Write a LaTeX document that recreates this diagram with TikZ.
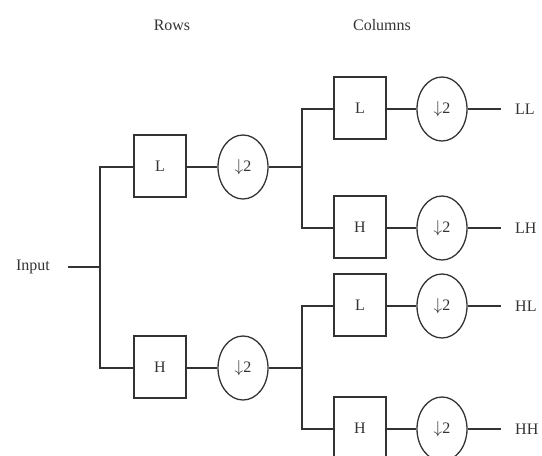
\documentclass[tikz,border=0pt]{standalone}
\usepackage{fontspec}
\setmainfont{Liberation Serif}
\usetikzlibrary{shapes.geometric}
\definecolor{ink}{HTML}{333333}
\begin{document}
\begin{tikzpicture}[x=1pt,y=-1pt,
  every node/.style={text=ink,font=\fontsize{16}{18}\selectfont},
  filt/.style={draw=ink,line width=1.3pt,minimum width=52pt,minimum height=62pt,inner sep=0pt},
  down/.style={draw=ink,line width=1.3pt,ellipse,minimum width=50pt,minimum height=64pt,inner sep=0pt},
  wire/.style={draw=ink,line width=1.3pt},
  lbl/.style={anchor=west,inner sep=0pt}]
\useasboundingbox (0,0) rectangle (542,456);
\node (rows) at (172,25) {Rows};
\node (cols) at (382,25) {Columns};
\node (in) at (33,267) {Input};
\coordinate (inA) at (68,267);
\coordinate (s1) at (100,267);
% row stage
\node[filt] (rL) at (160,166) {L};
\node[down] (rLd) at (243,167) {$\downarrow$2};
\node[filt] (rH) at (160,367) {H};
\node[down] (rHd) at (243,368) {$\downarrow$2};
% column stage
\node[filt] (cLL) at (360,108) {L};
\node[down] (dLL) at (442,109) {$\downarrow$2};
\node[filt] (cLH) at (360,227) {H};
\node[down] (dLH) at (442,228) {$\downarrow$2};
\node[filt] (cHL) at (360,305) {L};
\node[down] (dHL) at (442,306) {$\downarrow$2};
\node[filt] (cHH) at (360,428) {H};
\node[down] (dHH) at (442,429) {$\downarrow$2};
% outputs
\coordinate (eLL) at (501,109);
\coordinate (eLH) at (501,228);
\coordinate (eHL) at (501,306);
\coordinate (eHH) at (501,429);
\node[lbl] (oLL) at (515,109) {LL};
\node[lbl] (oLH) at (515,228) {LH};
\node[lbl] (oHL) at (515,306) {HL};
\node[lbl] (oHH) at (515,429) {HH};
% wires
\draw[wire] (inA) -- (s1);
\draw[wire] (rL.west |- 0,167) -| (s1) |- (rH.west |- 0,368);
\draw[wire] (rL.east |- 0,167) -- (rLd.west);
\draw[wire] (rH.east |- 0,368) -- (rHd.west);
\coordinate (s2) at (302,167);
\coordinate (s3) at (302,368);
\draw[wire] (rLd.east) -- (s2);
\draw[wire] (rHd.east) -- (s3);
\draw[wire] (cLL.west |- 0,109) -| (s2) |- (cLH.west |- 0,228);
\draw[wire] (cHL.west |- 0,306) -| (s3) |- (cHH.west |- 0,429);
\draw[wire] (cLL.east |- 0,109) -- (dLL.west);
\draw[wire] (cLH.east |- 0,228) -- (dLH.west);
\draw[wire] (cHL.east |- 0,306) -- (dHL.west);
\draw[wire] (cHH.east |- 0,429) -- (dHH.west);
\draw[wire] (dLL.east) -- (eLL);
\draw[wire] (dLH.east) -- (eLH);
\draw[wire] (dHL.east) -- (eHL);
\draw[wire] (dHH.east) -- (eHH);
\end{tikzpicture}
\end{document}
